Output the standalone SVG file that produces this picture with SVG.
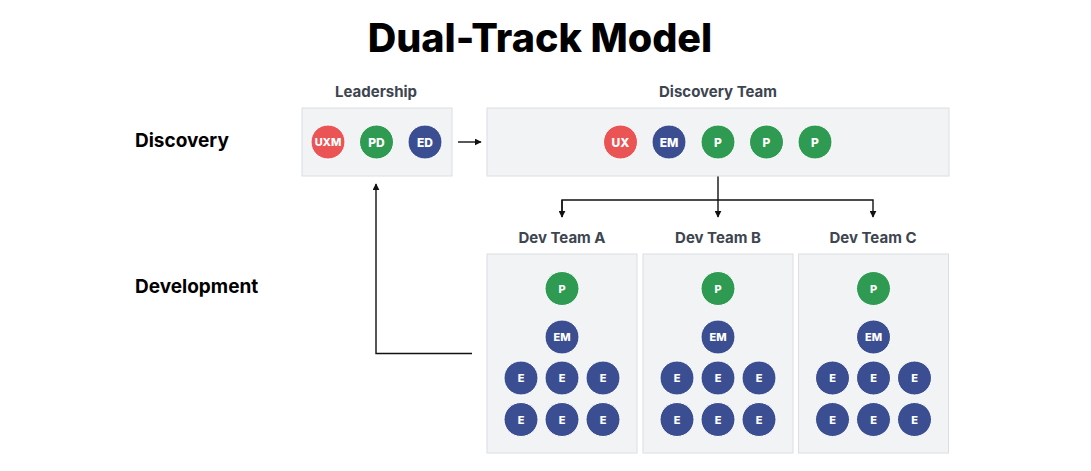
<svg xmlns="http://www.w3.org/2000/svg" width="1091" height="471" viewBox="0 0 1091 471">
<defs>
<style>
.title{font-family:Inter,"Liberation Sans",sans-serif;font-weight:800;font-size:39.5px;fill:#000}
.row{font-family:Inter,"Liberation Sans",sans-serif;font-weight:700;font-size:19px;fill:#000}
.lbl{font-family:Inter,"Liberation Sans",sans-serif;font-weight:700;font-size:15px;fill:#3d4550}
.box{fill:#f2f3f5;stroke:#dcdee2;stroke-width:1}
.c{stroke:#ffffff;stroke-width:1}
.r{fill:#ea5455}.g{fill:#2e9a52}.b{fill:#3a4e91}
.t{font-family:Inter,"Liberation Sans",sans-serif;font-weight:800;font-size:12px;fill:#fff;text-anchor:middle;dominant-baseline:central}
.ts{font-size:11px}
.ln{fill:none;stroke:#111;stroke-width:1.4}
</style>
<marker id="ah" viewBox="0 0 10 10" refX="9" refY="5" markerWidth="7" markerHeight="7" markerUnits="userSpaceOnUse" orient="auto">
<path d="M0,0 L10,5 L0,10 z" fill="#111"/>
</marker>
</defs>
<rect width="1091" height="471" fill="#fff"/>
<text class="title" x="540" y="52" text-anchor="middle">Dual-Track Model</text>
<text class="row" x="135" y="147">Discovery</text>
<text class="row" x="135" y="293">Development</text>

<g id="connectors">
<line class="ln" x1="458" y1="142" x2="481" y2="142" marker-end="url(#ah)"/>
<line class="ln" x1="718" y1="176" x2="718" y2="217" marker-end="url(#ah)"/>
<polyline class="ln" points="562,217 562,200 873,200 873,217" marker-end="url(#ah)"/>
<line class="ln" x1="562" y1="200" x2="562" y2="217" marker-end="url(#ah)"/>
<polyline class="ln" points="472,353.5 376,353.5 376,184" marker-end="url(#ah)"/>
</g>

<g id="leadership">
<text class="lbl" x="376" y="97" text-anchor="middle">Leadership</text>
<rect class="box" x="302" y="108" width="150" height="68"/>
<circle class="c r" cx="328" cy="142" r="17"/><text class="t ts" x="328" y="142">UXM</text>
<circle class="c g" cx="376.5" cy="142" r="17"/><text class="t" x="376.5" y="142">PD</text>
<circle class="c b" cx="425" cy="142" r="17"/><text class="t" x="425" y="142">ED</text>
</g>

<g id="discovery-team">
<text class="lbl" x="718" y="97" text-anchor="middle">Discovery Team</text>
<rect class="box" x="487" y="108" width="462" height="68"/>
<circle class="c r" cx="620.5" cy="142" r="17"/><text class="t" x="620.5" y="142">UX</text>
<circle class="c b" cx="669" cy="142" r="17"/><text class="t" x="669" y="142">EM</text>
<circle class="c g" cx="718" cy="142" r="17"/><text class="t" x="718" y="142">P</text>
<circle class="c g" cx="766.5" cy="142" r="17"/><text class="t" x="766.5" y="142">P</text>
<circle class="c g" cx="815" cy="142" r="17"/><text class="t" x="815" y="142">P</text>
</g>

<g id="dev-team-a">
<text class="lbl" x="562" y="243" text-anchor="middle">Dev Team A</text>
<rect class="box" x="487" y="254" width="150" height="199"/>
<circle class="c g" cx="562" cy="288.5" r="17"/><text class="t ts" x="562" y="288.5">P</text>
<circle class="c b" cx="562" cy="337" r="17"/><text class="t ts" x="562" y="337">EM</text>
<circle class="c b" cx="521" cy="378" r="17"/><text class="t ts" x="521" y="378">E</text>
<circle class="c b" cx="562" cy="378" r="17"/><text class="t ts" x="562" y="378">E</text>
<circle class="c b" cx="603" cy="378" r="17"/><text class="t ts" x="603" y="378">E</text>
<circle class="c b" cx="521" cy="419.5" r="17"/><text class="t ts" x="521" y="419.5">E</text>
<circle class="c b" cx="562" cy="419.5" r="17"/><text class="t ts" x="562" y="419.5">E</text>
<circle class="c b" cx="603" cy="419.5" r="17"/><text class="t ts" x="603" y="419.5">E</text>
</g>

<g id="dev-team-b">
<text class="lbl" x="718" y="243" text-anchor="middle">Dev Team B</text>
<rect class="box" x="643" y="254" width="150" height="199"/>
<circle class="c g" cx="718" cy="288.5" r="17"/><text class="t ts" x="718" y="288.5">P</text>
<circle class="c b" cx="718" cy="337" r="17"/><text class="t ts" x="718" y="337">EM</text>
<circle class="c b" cx="677" cy="378" r="17"/><text class="t ts" x="677" y="378">E</text>
<circle class="c b" cx="718" cy="378" r="17"/><text class="t ts" x="718" y="378">E</text>
<circle class="c b" cx="759" cy="378" r="17"/><text class="t ts" x="759" y="378">E</text>
<circle class="c b" cx="677" cy="419.5" r="17"/><text class="t ts" x="677" y="419.5">E</text>
<circle class="c b" cx="718" cy="419.5" r="17"/><text class="t ts" x="718" y="419.5">E</text>
<circle class="c b" cx="759" cy="419.5" r="17"/><text class="t ts" x="759" y="419.5">E</text>
</g>

<g id="dev-team-c">
<text class="lbl" x="873" y="243" text-anchor="middle">Dev Team C</text>
<rect class="box" x="798.5" y="254" width="150" height="199"/>
<circle class="c g" cx="873.5" cy="288.5" r="17"/><text class="t ts" x="873.5" y="288.5">P</text>
<circle class="c b" cx="873.5" cy="337" r="17"/><text class="t ts" x="873.5" y="337">EM</text>
<circle class="c b" cx="832.5" cy="378" r="17"/><text class="t ts" x="832.5" y="378">E</text>
<circle class="c b" cx="873.5" cy="378" r="17"/><text class="t ts" x="873.5" y="378">E</text>
<circle class="c b" cx="914.5" cy="378" r="17"/><text class="t ts" x="914.5" y="378">E</text>
<circle class="c b" cx="832.5" cy="419.5" r="17"/><text class="t ts" x="832.5" y="419.5">E</text>
<circle class="c b" cx="873.5" cy="419.5" r="17"/><text class="t ts" x="873.5" y="419.5">E</text>
<circle class="c b" cx="914.5" cy="419.5" r="17"/><text class="t ts" x="914.5" y="419.5">E</text>
</g>
</svg>
